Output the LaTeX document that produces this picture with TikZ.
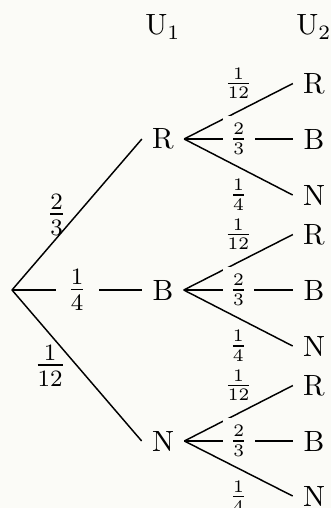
\documentclass[tikz,border=0pt]{standalone}
\usepackage{amsmath}
\usepackage{tikz}
\usetikzlibrary{positioning}
\definecolor{paper}{RGB}{251,251,247}
\tikzset{
  ball/.style={font=\normalsize},
  prob/.style={font=\large, inner sep=3.4pt},
  subprob/.style={font=\small, inner sep=4pt},
  onbranch/.style={fill=paper, inner sep=2.4pt},
  branch/.style={line width=0.5pt},
}

\begin{document}
\begin{tikzpicture}[x=0.012cm, y=-0.012cm]
  \useasboundingbox[fill=paper] (0,0) rectangle (331,508);

  % headers
  \node[ball] (u1) at (163,27) {U$_1$};
  \node[ball] (u2) at (314,27) {U$_2$};

  % first draw
  \coordinate (root) at (12,290);
  \node[ball] (r) at (163,139) {R};
  \node[ball] (b) at (163,290) {B};
  \node[ball] (n) at (163,441) {N};

  % second draw
  \node[ball] (rr) at (314,83.5) {R};
  \node[ball] (rb) at (314,139) {B};
  \node[ball] (rn) at (314,195) {N};
  \node[ball] (br) at (314,234.5) {R};
  \node[ball] (bb) at (314,290) {B};
  \node[ball] (bn) at (314,346) {N};
  \node[ball] (nr) at (314,385.5) {R};
  \node[ball] (nb) at (314,441) {B};
  \node[ball] (nn) at (314,496) {N};

  \draw[branch] (root) -- node[prob, left] {$\frac{2}{3}$} (r.west);
  \draw[branch] (root) -- node[prob, onbranch, inner sep=4pt] {$\frac{1}{4}$} (b.west);
  \draw[branch] (root) -- node[prob, left] {$\frac{1}{12}$} (n.west);

  \draw[branch] (r.east) -- node[subprob, above] {$\frac{1}{12}$} (rr.west);
  \draw[branch] (r.east) -- node[subprob, onbranch] {$\frac{2}{3}$} (rb.west);
  \draw[branch] (r.east) -- node[subprob, below] {$\frac{1}{4}$} (rn.west);

  \draw[branch] (b.east) -- node[subprob, above] {$\frac{1}{12}$} (br.west);
  \draw[branch] (b.east) -- node[subprob, onbranch] {$\frac{2}{3}$} (bb.west);
  \draw[branch] (b.east) -- node[subprob, below] {$\frac{1}{4}$} (bn.west);

  \draw[branch] (n.east) -- node[subprob, above] {$\frac{1}{12}$} (nr.west);
  \draw[branch] (n.east) -- node[subprob, onbranch] {$\frac{2}{3}$} (nb.west);
  \draw[branch] (n.east) -- node[subprob, below] {$\frac{1}{4}$} (nn.west);
\end{tikzpicture}
\end{document}
